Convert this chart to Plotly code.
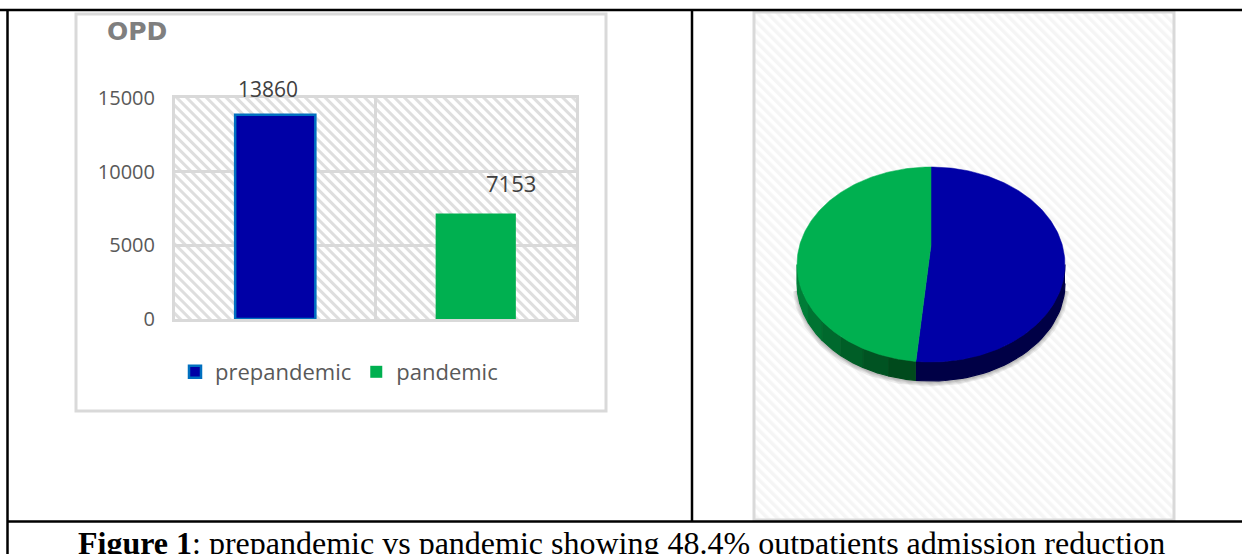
import base64
import numpy as np
import plotly.graph_objects as go

W, H = 1242, 554

categories = ["prepandemic", "pandemic"]
bar_values = [13860, 7153]
pie_shares = [51.8, 48.2]
y_ticks = [0, 5000, 10000, 15000]
chart_title = "OPD"
caption = "<b>Figure 1</b>: prepandemic vs pandemic showing 48.4% outpatients admission reduction"

BLUE, GREEN, EDGE, GRID = "#0000A6", "#00B050", "#0070C0", "#D9D9D9"


def fx(px):
    return px / W


def fy(py):
    return 1 - py / H


def hatch(w, h, color, period, stroke):
    svg = (
        f'<svg xmlns="http://www.w3.org/2000/svg" width="{w}" height="{h}" viewBox="0 0 {w} {h}">'
        f'<defs><pattern id="p" width="{period}" height="{period}" patternUnits="userSpaceOnUse" '
        f'patternTransform="rotate(-45)"><rect width="{stroke}" height="{period}" fill="{color}"/>'
        f'</pattern></defs><rect width="{w}" height="{h}" fill="url(#p)"/></svg>'
    )
    return "data:image/svg+xml;base64," + base64.b64encode(svg.encode()).decode()


fig = go.Figure()

# Bars
for i, (name, value, color) in enumerate(zip(categories, bar_values, [BLUE, GREEN])):
    fig.add_trace(go.Bar(
        x=[i], y=[value], name=name, width=0.4,
        marker=dict(color=color, line=dict(color=EDGE if i == 0 else color, width=2.5 if i == 0 else 0)),
    ))

# Pseudo-3D pie: angles come from pie_shares
split = 2 * np.pi * pie_shares[0] / sum(pie_shares)
APEX = 0.2
DEPTH = 0.195


def arc(a, b, n=120, dy=0.0):
    t = np.linspace(a, b, n)
    return np.sin(t), np.cos(t) + dy


def poly(xs, ys, color, width=0.5):
    fig.add_trace(go.Scatter(
        x=xs, y=ys, xaxis="x2", yaxis="y2", mode="lines", fill="toself", fillcolor=color,
        line=dict(color=color, width=width), showlegend=False, hoverinfo="skip",
    ))


def side(a, b, color):
    ux, uy = arc(a, b, 40)
    lx, ly = arc(b, a, 40, -DEPTH)
    poly(np.r_[ux, lx], np.r_[uy, ly], color, 1.2)


# soft shadow under the rim
sx, sy = arc(np.pi * 0.52, np.pi * 1.48, 160, -DEPTH - 0.01)
for width in (9, 6.5, 4, 2):
    fig.add_trace(go.Scatter(
        x=sx, y=sy, xaxis="x2", yaxis="y2", mode="lines",
        line=dict(color="rgba(0,0,0,0.07)", width=width), showlegend=False, hoverinfo="skip",
    ))

side(np.pi / 2, split, "#000046")
green_side = ["#004A1C", "#005322", "#005E27", "#00692D", "#007332", "#007D37", "#008039"]
edges = np.linspace(split, 1.5 * np.pi, len(green_side) + 1)
for a, b, c in reversed(list(zip(edges[:-1], edges[1:], green_side))):
    side(a, b, c)

ax_, ay_ = arc(0, split, 200)
poly(np.r_[0, ax_, 0], np.r_[APEX, ay_, APEX], BLUE)
gx_, gy_ = arc(split, 2 * np.pi, 200)
poly(np.r_[0, gx_, 0], np.r_[APEX, gy_, APEX], GREEN)

PLOT = (175, 576, 98, 319)
PIE = (754, 1174, 12, 520)
CX, CY, RX, RY = 931, 264.5, 134, 97.5

line = dict(color=GRID, width=3)
black = dict(color="black", width=2.5)


def seg(x0, y0, x1, y1, ln):
    return dict(type="line", xref="paper", yref="paper", x0=fx(x0), x1=fx(x1), y0=fy(y0), y1=fy(y1),
                line=ln, layer="above")


def box(x0, y0, x1, y1):
    return dict(type="rect", xref="paper", yref="paper", x0=fx(x0), x1=fx(x1), y0=fy(y0), y1=fy(y1),
                line=line, fillcolor="rgba(0,0,0,0)", layer="below")


fig.update_layout(
    width=W, height=H, autosize=False,
    margin=dict(l=0, r=0, t=0, b=0, pad=0, autoexpand=False),
    paper_bgcolor="white", plot_bgcolor="rgba(0,0,0,0)",
    barmode="overlay",
    font=dict(family="Open Sans", color="#595959", size=20),
    xaxis=dict(
        domain=[fx(PLOT[0]), fx(PLOT[1])], range=[-0.5, 1.5], tickvals=[0.5], showticklabels=False,
        ticks="", showgrid=True, gridcolor=GRID, gridwidth=3, zeroline=False,
        showline=True, linecolor=GRID, linewidth=3, mirror=True, fixedrange=True,
    ),
    yaxis=dict(
        domain=[fy(PLOT[3]), fy(PLOT[2])], range=[0, 15000], tickvals=y_ticks, ticks="", tickformat="d",
        ticklabelstandoff=13, showgrid=True, gridcolor=GRID, gridwidth=3, zeroline=False,
        showline=True, linecolor=GRID, linewidth=3, mirror=True, fixedrange=True,
        tickfont=dict(size=20, color="#595959"),
    ),
    xaxis2=dict(
        domain=[fx(PIE[0]), fx(PIE[1])], anchor="y2", visible=False, fixedrange=True,
        range=[(PIE[0] - CX) / RX, (PIE[1] - CX) / RX],
    ),
    yaxis2=dict(
        domain=[fy(PIE[3]), fy(PIE[2])], anchor="x2", visible=False, fixedrange=True,
        range=[(CY - PIE[3]) / RY, (CY - PIE[2]) / RY],
    ),
    legend=dict(
        orientation="h", x=fx(175), xanchor="left", y=fy(372), yanchor="middle",
        bgcolor="rgba(0,0,0,0)", font=dict(size=22, color="#595959"), traceorder="normal",
    ),
    images=[
        dict(source=hatch(PLOT[1] - PLOT[0], PLOT[3] - PLOT[2], "#DEDEDE", 7, 3), xref="paper", yref="paper",
             x=fx(PLOT[0]), y=fy(PLOT[2]), sizex=fx(PLOT[1] - PLOT[0]), sizey=(PLOT[3] - PLOT[2]) / H,
             xanchor="left", yanchor="top", sizing="stretch", layer="below"),
        dict(source=hatch(PIE[1] - PIE[0], PIE[3] - PIE[2], "#F5F5F5", 7, 3.5), xref="paper", yref="paper",
             x=fx(PIE[0]), y=fy(PIE[2]), sizex=fx(PIE[1] - PIE[0]), sizey=(PIE[3] - PIE[2]) / H,
             xanchor="left", yanchor="top", sizing="stretch", layer="below"),
    ],
    shapes=[
        box(76, 14, 606, 411),
        box(754, 12, 1174, 520),
        seg(0, 10, W, 10, black),
        seg(7.5, 10, 7.5, H, black),
        seg(692, 10, 692, 521, black),
        seg(7, 521.5, W, 521.5, black),
    ],
    annotations=[
        dict(text=chart_title, xref="paper", yref="paper", x=fx(105), y=fy(31), xanchor="left", yanchor="middle",
             showarrow=False, font=dict(family="DejaVu Sans", size=25, color="#7F7F7F", weight="bold")),
        dict(text=str(bar_values[0]), x=0, y=bar_values[0], xref="x", yref="y", showarrow=False,
             xshift=-7, yshift=26, font=dict(size=21, color="#404040")),
        dict(text=str(bar_values[1]), x=1, y=bar_values[1], xref="x", yref="y", showarrow=False,
             xshift=35, yshift=31, font=dict(size=22, color="#404040")),
        dict(text=caption, xref="paper", yref="paper", x=fx(621.5), y=fy(543), xanchor="center", yanchor="middle",
             showarrow=False, font=dict(family="Liberation Serif", size=32, color="black")),
    ],
)

fig.write_html(
    "out.html",
    config=dict(displayModeBar=False),
    post_script="document.body.style.margin='0';document.body.style.overflow='hidden';",
)
